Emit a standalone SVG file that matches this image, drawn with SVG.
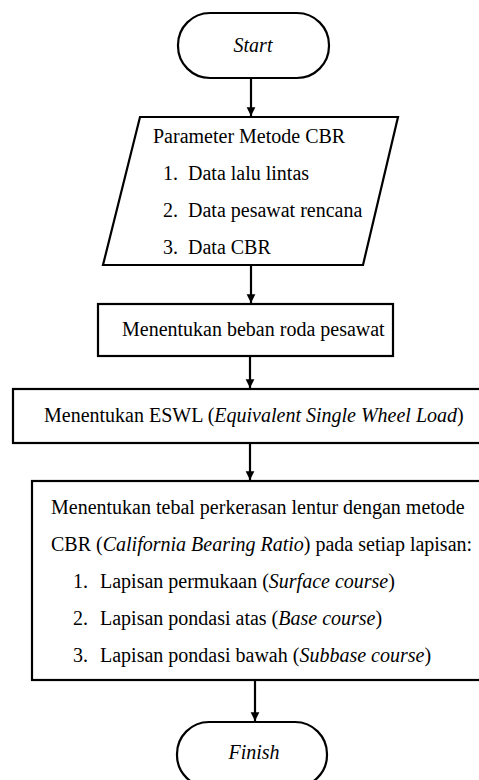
<svg xmlns="http://www.w3.org/2000/svg" width="479" height="780" viewBox="0 0 479 780">
<defs>
<style>
.s{fill:#fff;stroke:#000;stroke-width:2.2}
.t{font-size:20px;fill:#000}
.i{font-style:italic}
.c{stroke:#000;stroke-width:2.2;fill:none}
</style>
<marker id="ah" viewBox="0 0 10 10" refX="10" refY="5" markerWidth="4" markerHeight="4.5" orient="auto" markerUnits="strokeWidth">
<path d="M0,0 L10,5 L0,10 z" fill="#000"/>
</marker>
</defs>
<rect width="479" height="780" fill="#fff"/>
<g id="connectors">
<line class="c" x1="251" y1="78" x2="251" y2="116" marker-end="url(#ah)"/>
<line class="c" x1="251" y1="265" x2="251" y2="303" marker-end="url(#ah)"/>
<line class="c" x1="250" y1="356" x2="250" y2="388" marker-end="url(#ah)"/>
<line class="c" x1="250" y1="443" x2="250" y2="480" marker-end="url(#ah)"/>
<line class="c" x1="255" y1="680" x2="255" y2="721" marker-end="url(#ah)"/>
</g>
<g font-family="Liberation Serif, Times New Roman, serif">
<g id="start">
<rect class="s" x="178" y="13" width="151" height="65" rx="32" ry="32"/>
<text class="t i" x="253" y="52" text-anchor="middle">Start</text>
</g>
<g id="parameter">
<polygon class="s" points="140,117 398,117 363,265 103,265"/>
<text class="t" x="153" y="143">Parameter Metode CBR</text>
<text class="t" x="163" y="180">1.</text><text class="t" x="188" y="180">Data lalu lintas</text>
<text class="t" x="163" y="217">2.</text><text class="t" x="188" y="217">Data pesawat rencana</text>
<text class="t" x="163" y="254">3.</text><text class="t" x="188" y="254">Data CBR</text>
</g>
<g id="beban">
<rect class="s" x="98" y="304" width="295" height="52"/>
<text class="t" x="122" y="336">Menentukan beban roda pesawat</text>
</g>
<g id="eswl">
<rect class="s" x="13" y="389" width="490" height="54"/>
<text class="t" x="44" y="422">Menentukan ESWL (<tspan class="i">Equivalent Single Wheel Load</tspan>)</text>
</g>
<g id="tebal">
<rect class="s" x="32" y="481" width="470" height="199"/>
<text class="t" x="51" y="514">Menentukan tebal perkerasan lentur dengan metode</text>
<text class="t" x="51" y="551">CBR (<tspan class="i">California Bearing Ratio</tspan>) pada setiap lapisan:</text>
<text class="t" x="73" y="588">1.</text><text class="t" x="100" y="588">Lapisan permukaan (<tspan class="i">Surface course</tspan>)</text>
<text class="t" x="73" y="625">2.</text><text class="t" x="100" y="625">Lapisan pondasi atas (<tspan class="i">Base course</tspan>)</text>
<text class="t" x="73" y="662">3.</text><text class="t" x="100" y="662">Lapisan pondasi bawah (<tspan class="i">Subbase course</tspan>)</text>
</g>
<g id="finish">
<rect class="s" x="177" y="722" width="150" height="65" rx="32" ry="32"/>
<text class="t i" x="254" y="759" text-anchor="middle">Finish</text>
</g>
</g>
</svg>
